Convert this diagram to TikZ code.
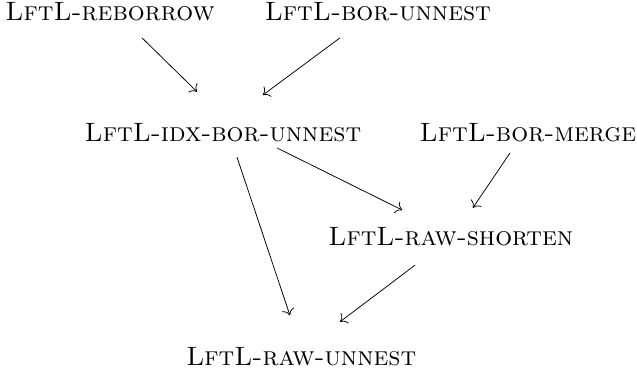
\documentclass[tikz,border=0pt]{standalone}
\usepackage{tikz}
\usetikzlibrary{arrows.meta,calc}

\begin{document}
\begin{tikzpicture}[
    lemma/.style={inner sep=2pt, font=\fontsize{14}{17}\selectfont\scshape},
    arr/.style={-{To[scale=1.3]}},
]
    \useasboundingbox (0,0) rectangle (11.8,-6.835);

    % Lemmas
    \node[lemma] (reborrow) at (2.04,-0.21) {LftL-reborrow};
    \node[lemma] (borunnest) at (7.00,-0.21) {LftL-bor-unnest};
    \node[lemma] (idxborunnest) at (4.13,-2.45) {LftL-idx-bor-unnest};
    \node[lemma] (bormerge) at (9.78,-2.45) {LftL-bor-merge};
    \node[lemma] (rawshorten) at (8.35,-4.39) {LftL-raw-shorten};
    \node[lemma] (rawunnest) at (5.58,-6.60) {LftL-raw-unnest};

    % Dependencies
    \draw[arr] ([shift={(0.59,-0.49)}]reborrow.center) -- ([shift={(-0.48,0.75)}]idxborunnest.center);
    \draw[arr] ([shift={(-0.70,-0.49)}]borunnest.center) -- ([shift={(0.74,0.69)}]idxborunnest.center);
    \draw[arr] ([shift={(1.00,-0.29)}]idxborunnest.center) -- ([shift={(-0.90,0.50)}]rawshorten.center);
    \draw[arr] ([shift={(0.26,-0.46)}]idxborunnest.center) -- ([shift={(-0.21,0.76)}]rawunnest.center);
    \draw[arr] ([shift={(-0.33,-0.38)}]bormerge.center) -- ([shift={(0.41,0.54)}]rawshorten.center);
    \draw[arr] ([shift={(-0.66,-0.52)}]rawshorten.center) -- ([shift={(0.72,0.64)}]rawunnest.center);
\end{tikzpicture}
\end{document}
